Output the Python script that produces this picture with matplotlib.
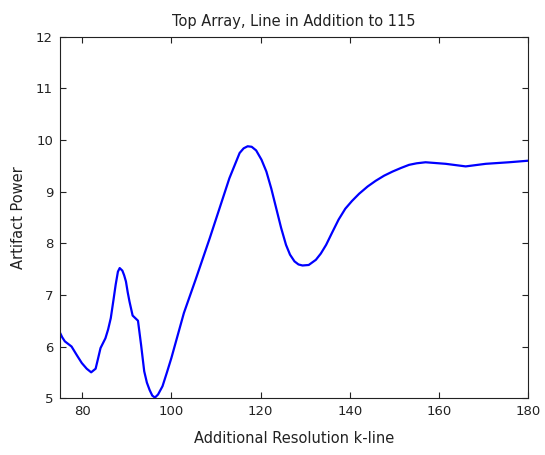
import matplotlib
matplotlib.use("Agg")
import matplotlib.pyplot as plt

# k-line positions and measured artifact power
k_line = [75.0, 75.5, 76.1, 77.6, 78.8, 79.9, 81.0, 82.0, 83.0, 83.5, 84.1, 85.2,
          85.8, 86.4, 87.0, 87.5, 88.0, 88.4, 89.0, 89.4, 89.8, 90.2, 90.6, 91.3,
          92.5, 93.2, 93.9, 94.5, 95.1, 95.7, 96.3, 97.0, 98.0, 99.0, 100.0,
          102.8, 105.4, 108.6, 110.8, 113.0, 115.3, 116.2, 117.1, 118.0, 119.0,
          120.2, 121.3, 122.4, 123.5, 124.6, 125.7, 126.6, 127.6, 128.5, 129.4,
          130.8, 132.4, 133.5, 134.7, 136.0, 137.5, 139.0, 140.5, 142.1, 144.0,
          145.8, 147.7, 149.6, 151.5, 153.3, 155.0, 157.0, 161.5, 166.0, 170.5,
          175.7, 180.0]
artifact_power = [6.27, 6.18, 6.10, 6.00, 5.83, 5.68, 5.57, 5.50, 5.57, 5.75, 5.97, 6.16,
                  6.33, 6.55, 6.90, 7.20, 7.45, 7.52, 7.47, 7.38, 7.26, 7.05, 6.87, 6.60,
                  6.50, 6.03, 5.52, 5.30, 5.16, 5.05, 5.01, 5.07, 5.23, 5.50, 5.78,
                  6.65, 7.29, 8.10, 8.68, 9.26, 9.75, 9.84, 9.88, 9.87, 9.80,
                  9.62, 9.39, 9.06, 8.68, 8.30, 7.97, 7.78, 7.65, 7.59, 7.57,
                  7.58, 7.68, 7.80, 7.97, 8.20, 8.46, 8.67, 8.82, 8.96, 9.10,
                  9.21, 9.31, 9.39, 9.46, 9.52, 9.55, 9.57, 9.54, 9.49, 9.54,
                  9.57, 9.60]

x_ticks = [80, 100, 120, 140, 160, 180]
y_ticks = [5, 6, 7, 8, 9, 10, 11, 12]

plt.rcParams["font.family"] = ["DejaVu Sans"]

fig = plt.figure(figsize=(5.45, 4.55), dpi=100)
ax = fig.add_axes([0.110, 0.125, 0.859, 0.794])

ax.plot(k_line, artifact_power, color=(0, 0, 1), linewidth=1.6)

ax.set_xlim(75, 180)
ax.set_ylim(5, 12)
ax.set_xticks(x_ticks)
ax.set_yticks(y_ticks)
ax.tick_params(direction="in", length=4, width=0.8, top=True, right=True,
               labelsize=9.5, colors="#222222", pad=5)
for spine in ax.spines.values():
    spine.set_linewidth(0.8)
    spine.set_color("#222222")

ax.set_title("Top Array, Line in Addition to 115", fontsize=10.5, pad=8,
             color="#222222")
ax.set_xlabel("Additional Resolution k-line", fontsize=10.5, labelpad=9,
              color="#222222")
ax.set_ylabel("Artifact Power", fontsize=10.5, labelpad=7, color="#222222")

fig.savefig("out.png", dpi=100)
